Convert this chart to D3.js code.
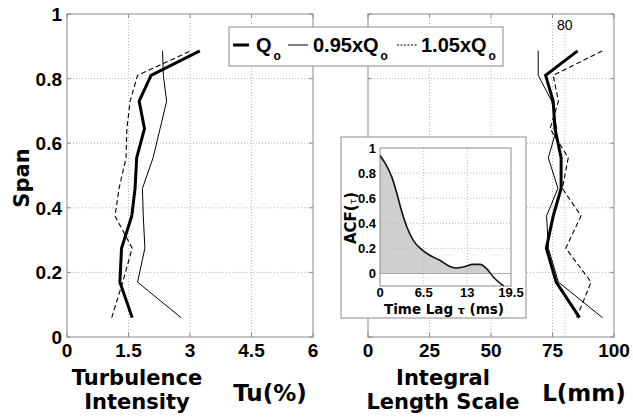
<!DOCTYPE html>
<html>
<head>
<meta charset="utf-8">
<script src="https://cdn.jsdelivr.net/npm/d3@7"></script>
<style>
  html, body { margin: 0; padding: 0; background: #fff; }
  svg { display: block; }
</style>
</head>
<body>
<svg id="chart" width="633" height="417"></svg>
<script>
// Spanwise measurement stations
const span = [0.06, 0.17, 0.275, 0.375, 0.46, 0.555, 0.645, 0.73, 0.81, 0.886];

// Turbulence intensity Tu (%) for each inlet flow rate
const tuQ0   = [1.59, 1.29, 1.33, 1.58, 1.66, 1.70, 1.89, 1.76, 2.05, 3.24];
const tuQ095 = [2.78, 1.72, 1.90, 1.86, 1.84, 2.10, 2.27, 2.43, 2.35, 2.33];
const tuQ105 = [1.09, 1.36, 1.59, 1.17, 1.27, 1.44, 1.46, 1.54, 1.72, 3.02];

// Integral length scale L (mm)
const lenQ0   = [86.0, 76.5, 72.5, 75.3, 78.5, 78.5, 76.0, 75.3, 72.2, 85.2];
const lenQ095 = [95.3, 77.4, 73.3, 72.6, 77.2, 73.3, 76.7, 74.7, 69.2, 69.2];
const lenQ105 = [84.8, 90.7, 80.4, 86.6, 79.0, 81.4, 74.0, 77.4, 75.3, 95.3];

// Autocorrelation function example
const lagMs = [0, 0.75, 1.75, 2.5, 3.2, 4.0, 5.0, 6.0, 7.4, 8.9, 10.4, 11.4, 12.4, 13.9, 14.9, 15.9, 16.9, 18.4];
const acf   = [0.94, 0.88, 0.77, 0.64, 0.50, 0.37, 0.26, 0.20, 0.145, 0.105, 0.056, 0.043, 0.051, 0.072, 0.072, 0.037, -0.03, -0.10];

// Tick values and labels
const spanTicks = [0, 0.2, 0.4, 0.6, 0.8, 1];
const tuTicks = [0, 1.5, 3, 4.5, 6];
const lenTicks = [0, 25, 50, 75, 100];
const acfTicks = [0, 0.2, 0.4, 0.6, 0.8, 1];
const lagTicks = [0, 6.5, 13, 19.5];
const refLength = 80;

const seriesNames = ["Q", "0.95xQ", "1.05xQ"];

const svg = d3.select("#chart");
const TICK_FONT = "'Liberation Sans', Arial, sans-serif";
const TITLE_FONT = "'DejaVu Sans', Verdana, sans-serif";
const BORDER = "#8a8a8a";
const GRID = "#b8b8b8";

const styles = [
  { width: 3, dash: null },
  { width: 1, dash: null },
  { width: 1.1, dash: "5,3" }
];

const yTop = 14, yBot = 337;
const ySpan = d3.scaleLinear().domain([0, 1]).range([yBot, yTop]);

function panel(x0, x1, xDomain, xTicks, seriesData, extraGrid) {
  const x = d3.scaleLinear().domain(xDomain).range([x0, x1]);
  const g = svg.append("g");
  // grid
  const gridX = xTicks.slice(1, -1).concat(extraGrid || []);
  g.selectAll(".gx").data(gridX).join("line")
    .attr("x1", d => x(d)).attr("x2", d => x(d))
    .attr("y1", yTop).attr("y2", yBot)
    .attr("stroke", GRID).attr("stroke-dasharray", "1,2").attr("stroke-width", 1);
  g.selectAll(".gy").data(spanTicks.slice(1, -1)).join("line")
    .attr("x1", x0).attr("x2", x1)
    .attr("y1", d => ySpan(d)).attr("y2", d => ySpan(d))
    .attr("stroke", GRID).attr("stroke-dasharray", "1,2").attr("stroke-width", 1);
  // frame
  g.append("rect").attr("x", x0).attr("y", yTop).attr("width", x1 - x0).attr("height", yBot - yTop)
    .attr("fill", "none").attr("stroke", BORDER).attr("stroke-width", 1);
  // inward ticks
  const tk = 4;
  g.selectAll(".tb").data(xTicks).join("line")
    .attr("x1", d => x(d)).attr("x2", d => x(d)).attr("y1", yBot).attr("y2", yBot - tk)
    .attr("stroke", BORDER);
  g.selectAll(".tt").data(xTicks).join("line")
    .attr("x1", d => x(d)).attr("x2", d => x(d)).attr("y1", yTop).attr("y2", yTop + tk)
    .attr("stroke", BORDER);
  g.selectAll(".tl").data(spanTicks).join("line")
    .attr("x1", x0).attr("x2", x0 + tk).attr("y1", d => ySpan(d)).attr("y2", d => ySpan(d))
    .attr("stroke", BORDER);
  g.selectAll(".tr").data(spanTicks).join("line")
    .attr("x1", x1).attr("x2", x1 - tk).attr("y1", d => ySpan(d)).attr("y2", d => ySpan(d))
    .attr("stroke", BORDER);
  // x tick labels
  g.selectAll(".xl").data(xTicks).join("text")
    .attr("x", d => x(d)).attr("y", 357)
    .attr("text-anchor", "middle")
    .attr("font-family", TICK_FONT).attr("font-weight", "bold").attr("font-size", 19)
    .text(d => d);
  // profiles
  const line = d3.line().x(d => x(d[0])).y(d => ySpan(d[1]));
  seriesData.forEach((vals, i) => {
    g.append("path")
      .datum(vals.map((v, j) => [v, span[j]]))
      .attr("d", line)
      .attr("fill", "none")
      .attr("stroke", "#000")
      .attr("stroke-width", styles[i].width)
      .attr("stroke-dasharray", styles[i].dash)
      .attr("stroke-linejoin", "miter");
  });
  return x;
}

// Left panel: turbulence intensity
panel(67, 313, [0, 6], tuTicks, [tuQ0, tuQ095, tuQ105]);
// y tick labels
svg.selectAll(".yl").data(spanTicks).join("text")
  .attr("x", 62).attr("y", d => ySpan(d) + 7)
  .attr("text-anchor", "end")
  .attr("font-family", TICK_FONT).attr("font-weight", "bold").attr("font-size", 19)
  .text(d => d);
svg.append("text")
  .attr("transform", "translate(29,178) rotate(-90)")
  .attr("text-anchor", "middle")
  .attr("font-family", TITLE_FONT).attr("font-weight", "bold").attr("font-size", 21)
  .text("Span");

// Right panel: integral length scale
const xLen = panel(368, 614, [0, 100], lenTicks, [lenQ0, lenQ095, lenQ105], [refLength]);
svg.append("text")
  .attr("x", xLen(refLength)).attr("y", 30)
  .attr("text-anchor", "middle")
  .attr("font-family", TICK_FONT).attr("font-size", 14)
  .text(refLength);

// Axis titles
function title(lines, cx, ys, size) {
  lines.forEach((t, i) => {
    svg.append("text")
      .attr("x", cx).attr("y", ys[i])
      .attr("text-anchor", "middle")
      .attr("font-family", TITLE_FONT).attr("font-weight", "bold").attr("font-size", size)
      .text(t);
  });
}
title(["Turbulence", "Intensity"], 137, [385, 409], 21);
title(["Tu(%)"], 270, [401], 23);
title(["Integral", "Length Scale"], 443, [385, 409], 21);
title(["L(mm)"], 584, [401], 23);

// Legend
const lg = svg.append("g");
lg.append("rect").attr("x", 229).attr("y", 27).attr("width", 274).attr("height", 39)
  .attr("fill", "#fff").attr("stroke", BORDER).attr("stroke-width", 1);
const legendLayout = [
  { x1: 233, x2: 249, tx: 256 },
  { x1: 288, x2: 308, tx: 313 },
  { x1: 397, x2: 417, tx: 421 }
];
seriesNames.forEach((name, i) => {
  const L = legendLayout[i];
  lg.append("line")
    .attr("x1", L.x1).attr("x2", L.x2).attr("y1", 45).attr("y2", 45)
    .attr("stroke", "#000").attr("stroke-width", styles[i].width)
    .attr("stroke-dasharray", i === 2 ? "2,1.5" : null);
  const t = lg.append("text")
    .attr("x", L.tx).attr("y", 52)
    .attr("font-family", TICK_FONT).attr("font-weight", "bold").attr("font-size", 20)
    .text(name);
  const w = t.node().getComputedTextLength();
  lg.append("text")
    .attr("x", L.tx + w + 2).attr("y", 60)
    .attr("font-family", TICK_FONT).attr("font-weight", "bold").attr("font-size", 12)
    .text("o");
});

// Inset: autocorrelation function
const ig = svg.append("g");
ig.append("rect").attr("x", 341).attr("y", 137).attr("width", 185).attr("height", 181)
  .attr("fill", "#fff").attr("stroke", BORDER).attr("stroke-width", 1);
const ix = d3.scaleLinear().domain([0, 19.5]).range([380, 511]);
const iy = d3.scaleLinear().domain([-0.1, 1]).range([286, 148]);

ig.append("defs").append("clipPath").attr("id", "acfPos")
  .append("rect").attr("x", ix(0)).attr("y", iy(1)).attr("width", ix(19.5) - ix(0)).attr("height", iy(0) - iy(1));
ig.select("defs").append("clipPath").attr("id", "acfPlot")
  .append("rect").attr("x", ix(0)).attr("y", iy(1)).attr("width", ix(19.5) - ix(0)).attr("height", iy(-0.1) - iy(1));

const acfPts = lagMs.map((t, i) => [t, acf[i]]);
ig.append("path").datum(acfPts)
  .attr("clip-path", "url(#acfPos)")
  .attr("d", d3.area().x(d => ix(d[0])).y0(iy(0)).y1(d => iy(d[1])).curve(d3.curveMonotoneX))
  .attr("fill", "#cfcfcf");

ig.selectAll(".igx").data(lagTicks.slice(1, -1)).join("line")
  .attr("x1", d => ix(d)).attr("x2", d => ix(d)).attr("y1", iy(1)).attr("y2", iy(-0.1))
  .attr("stroke", GRID).attr("stroke-dasharray", "1,2");
ig.selectAll(".igy").data(acfTicks.slice(1, -1)).join("line")
  .attr("x1", ix(0)).attr("x2", ix(19.5)).attr("y1", d => iy(d)).attr("y2", d => iy(d))
  .attr("stroke", GRID).attr("stroke-dasharray", "1,2");
ig.append("line")
  .attr("x1", ix(0)).attr("x2", ix(19.5)).attr("y1", iy(0)).attr("y2", iy(0))
  .attr("stroke", "#999").attr("stroke-width", 0.8);
ig.append("rect").attr("x", ix(0)).attr("y", iy(1)).attr("width", ix(19.5) - ix(0)).attr("height", iy(-0.1) - iy(1))
  .attr("fill", "none").attr("stroke", BORDER);

ig.append("path").datum(acfPts)
  .attr("clip-path", "url(#acfPlot)")
  .attr("d", d3.line().x(d => ix(d[0])).y(d => iy(d[1])).curve(d3.curveMonotoneX))
  .attr("fill", "none").attr("stroke", "#111").attr("stroke-width", 1.6);

ig.selectAll(".iyl").data(acfTicks).join("text")
  .attr("x", 376).attr("y", d => iy(d) + 5)
  .attr("text-anchor", "end")
  .attr("font-family", TICK_FONT).attr("font-weight", "bold").attr("font-size", 13)
  .text(d => d);
ig.selectAll(".ixl").data(lagTicks).join("text")
  .attr("x", d => ix(d)).attr("y", 297)
  .attr("text-anchor", "middle")
  .attr("font-family", TICK_FONT).attr("font-weight", "bold").attr("font-size", 13)
  .text(d => d);

const xl = ig.append("text")
  .attr("x", 444).attr("y", 314)
  .attr("text-anchor", "middle")
  .attr("font-family", TITLE_FONT).attr("font-weight", "bold").attr("font-size", 13.5);
xl.append("tspan").text("Time Lag ");
xl.append("tspan").attr("font-size", 11).text("τ");
xl.append("tspan").text(" (ms)");

const yl = ig.append("text")
  .attr("transform", "translate(356,218) rotate(-90)")
  .attr("text-anchor", "middle")
  .attr("font-family", TITLE_FONT).attr("font-weight", "bold").attr("font-size", 15);
yl.append("tspan").text("ACF(");
yl.append("tspan").attr("font-size", 9).attr("font-weight", "normal").text("τ");
yl.append("tspan").text(")");
</script>
</body>
</html>
